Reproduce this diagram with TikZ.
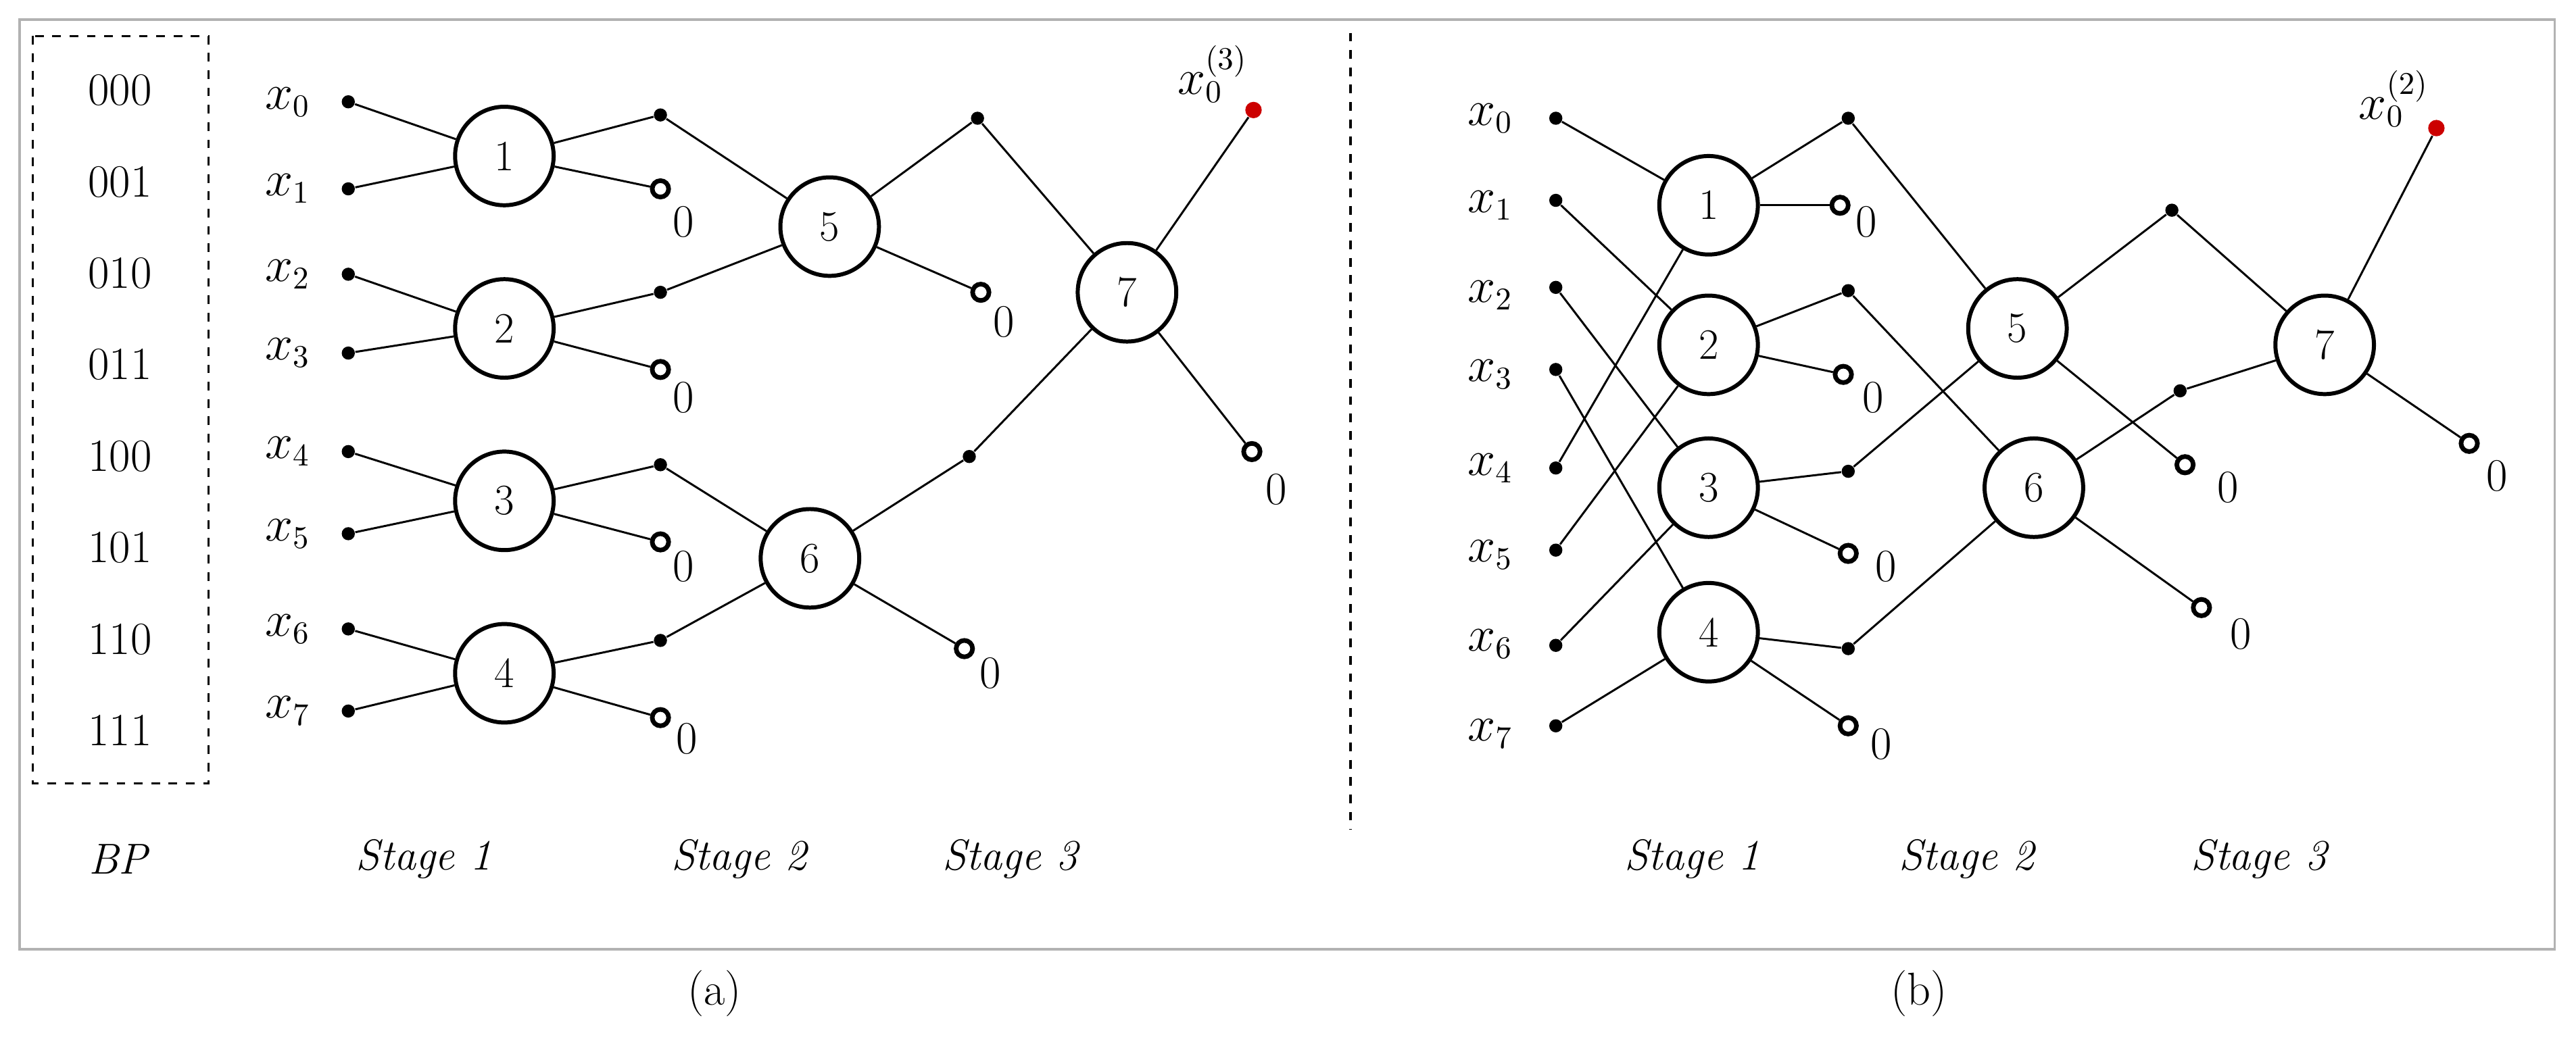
\documentclass[tikz,border=0pt]{standalone}
\begin{document}
\begin{tikzpicture}[x=0.02cm,y=-0.02cm,
  dot/.style={circle,fill=black,inner sep=0,minimum size=0.16cm},
  rdot/.style={circle,fill=red!80!black,inner sep=0,minimum size=0.2cm},
  open/.style={circle,draw,line width=1.6pt,fill=white,inner sep=0,minimum size=0.2cm},
  bf/.style={circle,draw,line width=1.4pt,fill=white,minimum size=1.2cm,inner sep=0,font=\fontsize{15}{18}\selectfont},
  lab/.style={font=\fontsize{16}{19}\selectfont},
  st/.style={font=\fontsize{15}{18}\selectfont\itshape},
  ln/.style={line width=0.7pt}]
\useasboundingbox (0,0) rectangle (1568,643);
\draw[gray!60,line width=0.8pt] (12,12) rectangle (1555,578);
\draw[dashed,line width=0.8pt] (20,22) rectangle (127,477);
\foreach \t [count=\i] in {000,001,010,011,100,101,110,111}
  \node[lab] (bp\i) at (73,{55+55.7*(\i-1)}) {\t};
\node[st] (bpl) at (72,523) {BP};
\draw[dashed,line width=0.8pt] (822,20) -- (822,505);
\node[lab] (ca) at (435,605) {(a)};
\node[lab] (cb) at (1168,605) {(b)};
% ---------- left
\foreach \i/\y in {0/62,1/115,2/167,3/215,4/275,5/325,6/383,7/433}{
  \node[lab] (alx\i) at (175,\y) {$x_\i$};
  \node[dot] (ax\i) at (212,\y) {};}
\node[bf] (a1) at (307,95) {1};
\node[bf] (a2) at (307,200) {2};
\node[bf] (a3) at (307,305) {3};
\node[bf] (a4) at (307,410) {4};
\node[bf] (a5) at (505,138) {5};
\node[bf] (a6) at (493,340) {6};
\node[bf] (a7) at (686,178) {7};
\node[dot] (ad1) at (402,70) {}; \node[open] (ao1) at (402,115) {}; \node[lab] (az1) at (416,135) {0};
\node[dot] (ad2) at (402,178) {}; \node[open] (ao2) at (402,225) {}; \node[lab] (az2) at (416,242) {0};
\node[dot] (ad3) at (402,283) {}; \node[open] (ao3) at (402,330) {}; \node[lab] (az3) at (416,345) {0};
\node[dot] (ad4) at (402,390) {}; \node[open] (ao4) at (402,437) {}; \node[lab] (az4) at (418,450) {0};
\node[dot] (ad5) at (595,72) {}; \node[open] (ao5) at (597,178) {}; \node[lab] (az5) at (611,196) {0};
\node[dot] (ad6) at (590,278) {}; \node[open] (ao6) at (587,395) {}; \node[lab] (az6) at (603,410) {0};
\node[rdot] (ad7) at (763,67) {}; \node[lab] (ar7) at (738,45) {$x_0^{(3)}$};
\node[open] (ao7) at (762,275) {}; \node[lab] (az7) at (777,298) {0};
\foreach \a/\b in {ax0/a1,ax1/a1,ax2/a2,ax3/a2,ax4/a3,ax5/a3,ax6/a4,ax7/a4,
  a1/ad1,a1/ao1,a2/ad2,a2/ao2,a3/ad3,a3/ao3,a4/ad4,a4/ao4,
  ad1/a5,ad2/a5,ad3/a6,ad4/a6,a5/ad5,a5/ao5,a6/ad6,a6/ao6,
  ad5/a7,ad6/a7,a7/ad7,a7/ao7}
  \draw[ln] (\a) -- (\b);
\node[st] (as1) at (258,523) {Stage 1};
\node[st] (as2) at (450,523) {Stage 2};
\node[st] (as3) at (615,523) {Stage 3};
% ---------- right
\foreach \i/\y/\yd in {0/72/72,1/125/122,2/180/175,3/228/225,4/285/285,5/338/335,6/392/393,7/447/442}{
  \node[lab] (blx\i) at (907,\y) {$x_\i$};
  \node[dot] (bx\i) at (947,\yd) {};}
\node[bf] (b1) at (1040,125) {1};
\node[bf] (b2) at (1040,210) {2};
\node[bf] (b3) at (1040,297) {3};
\node[bf] (b4) at (1040,385) {4};
\node[bf] (b5) at (1228,200) {5};
\node[bf] (b6) at (1238,297) {6};
\node[bf] (b7) at (1415,210) {7};
\node[dot] (bd1) at (1125,72) {}; \node[open] (bo1) at (1120,125) {}; \node[lab] (bz1) at (1136,135) {0};
\node[dot] (bd2) at (1125,177) {}; \node[open] (bo2) at (1122,228) {}; \node[lab] (bz2) at (1140,242) {0};
\node[dot] (bd3) at (1125,287) {}; \node[open] (bo3) at (1125,337) {}; \node[lab] (bz3) at (1148,345) {0};
\node[dot] (bd4) at (1125,395) {}; \node[open] (bo4) at (1125,442) {}; \node[lab] (bz4) at (1145,453) {0};
\node[dot] (bd5) at (1322,128) {}; \node[open] (bo5) at (1330,283) {}; \node[lab] (bz5) at (1356,297) {0};
\node[dot] (bd6) at (1327,238) {}; \node[open] (bo6) at (1340,370) {}; \node[lab] (bz6) at (1364,386) {0};
\node[rdot] (bd7) at (1483,78) {}; \node[lab] (br7) at (1457,60) {$x_0^{(2)}$};
\node[open] (bo7) at (1503,270) {}; \node[lab] (bz7) at (1520,290) {0};
\foreach \a/\b in {bx0/b1,bx4/b1,bx1/b2,bx5/b2,bx2/b3,bx6/b3,bx3/b4,bx7/b4,
  b1/bd1,b1/bo1,b2/bd2,b2/bo2,b3/bd3,b3/bo3,b4/bd4,b4/bo4,
  bd1/b5,bd3/b5,bd2/b6,bd4/b6,b5/bd5,b5/bo5,b6/bd6,b6/bo6,
  bd5/b7,bd6/b7,b7/bd7,b7/bo7}
  \draw[ln] (\a) -- (\b);
\node[st] (bs1) at (1030,523) {Stage 1};
\node[st] (bs2) at (1197,523) {Stage 2};
\node[st] (bs3) at (1375,523) {Stage 3};
\end{tikzpicture}
\end{document}
